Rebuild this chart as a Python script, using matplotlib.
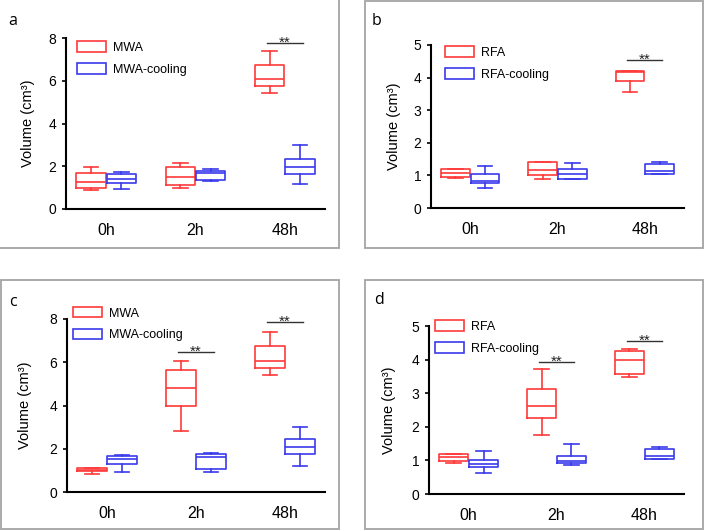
import matplotlib
matplotlib.use("Agg")
import matplotlib.pyplot as plt
from matplotlib.patches import Rectangle, Patch

plt.rcParams['font.family'] = ['Liberation Sans', 'DejaVu Sans']

W, H = 704, 531

groups = ['0h', '2h', '48h']
red = '#ff3a3a'
blue = '#3a3aec'

# box stats per group: (whislo, q1, med, q3, whishi)
mwa_a = [(0.90, 0.98, 1.28, 1.68, 1.97), (0.98, 1.11, 1.51, 1.97, 2.15), (5.43, 5.76, 6.07, 6.74, 7.39)]
mwa_cool_a = [(0.94, 1.22, 1.42, 1.65, 1.72), (1.29, 1.37, 1.68, 1.76, 1.86), (1.19, 1.64, 1.97, 2.32, 3.00)]
rfa_b = [(0.92, 0.95, 1.08, 1.19, 1.20), (0.88, 1.00, 1.18, 1.42, 1.42), (3.57, 3.90, 4.16, 4.19, 4.21)]
rfa_cool_b = [(0.61, 0.78, 0.84, 1.03, 1.28), (0.89, 0.89, 1.04, 1.19, 1.37), (1.05, 1.05, 1.12, 1.35, 1.40)]
mwa_c = [(0.82, 0.98, 1.04, 1.13, 1.13), (2.80, 3.98, 4.80, 5.65, 6.07), (5.42, 5.74, 6.05, 6.75, 7.38)]
mwa_cool_c = [(0.94, 1.28, 1.52, 1.66, 1.73), (0.94, 1.08, 1.64, 1.76, 1.81), (1.21, 1.76, 2.06, 2.43, 2.99)]
rfa_d = [(0.93, 0.97, 1.10, 1.19, 1.19), (1.76, 2.25, 2.63, 3.13, 3.73), (3.47, 3.56, 3.99, 4.27, 4.33)]
rfa_cool_d = [(0.63, 0.80, 0.88, 1.01, 1.28), (0.87, 0.91, 0.98, 1.14, 1.50), (1.03, 1.05, 1.13, 1.35, 1.40)]

# significance marks: group index and bar height
sig_a = ([2], [7.75])
sig_b = ([2], [4.53])
sig_c = ([1, 2], [6.47, 7.85])
sig_d = ([1, 2], [3.92, 4.55])

panels = [
    # letter, rect px (left, right, top, bottom), series, labels, ymax, sig, legend anchor, letter pos, ylabel x
    ('a', (66, 325, 38, 209), mwa_a, mwa_cool_a, ('MWA', 'MWA-cooling'), 8, sig_a, (0.042, 0.98), (8, 21), -0.147),
    ('b', (431, 684, 45, 208), rfa_b, rfa_cool_b, ('RFA', 'RFA-cooling'), 5, sig_b, (0.055, 0.991), (372, 21), -0.146),
    ('c', (67, 325, 319, 492), mwa_c, mwa_cool_c, ('MWA', 'MWA-cooling'), 8, sig_c, (0.023, 1.069), (9, 302), -0.163),
    ('d', (429, 684, 326, 494), rfa_d, rfa_cool_d, ('RFA', 'RFA-cooling'), 5, sig_d, (0.024, 1.033), (374, 300), -0.157),
]

frames = [(-3, -3, 339, 248), (365, 0.8, 703, 248), (1, 280, 339, 529), (365, 280, 703, 529)]

fig = plt.figure(figsize=(W / 100, H / 100), dpi=100)

for x0, y0, x1, y1 in frames:
    fig.add_artist(Rectangle((x0 / W, 1 - y1 / H), (x1 - x0) / W, (y1 - y0) / H,
                             transform=fig.transFigure, fill=False,
                             edgecolor='#a4a4a4', linewidth=1.3))


def stats(rows):
    return [dict(whislo=r[0], q1=r[1], med=r[2], q3=r[3], whishi=r[4], fliers=[]) for r in rows]


for letter, (l, r, t, b), s1, s2, labels, ymax, sig, anchor, lpos, ylx in panels:
    ax = fig.add_axes([l / W, 1 - b / H, (r - l) / W, (b - t) / H])
    pos = [i + 1 for i in range(len(groups))]
    for data, col, off in [(s1, red, -0.17), (s2, blue, 0.17)]:
        ls = dict(color=col, linewidth=1.2)
        ax.bxp(stats(data), positions=[p + off for p in pos], widths=0.33,
               showfliers=False, boxprops=ls, whiskerprops=ls, capprops=ls,
               medianprops=ls, manage_ticks=False)
    for gi, yv in zip(*sig):
        ax.plot([pos[gi] - 0.2, pos[gi] + 0.2], [yv, yv], color='#333333', linewidth=1.0)
        ax.annotate('**', xy=(pos[gi], yv), xytext=(0, 0.5), textcoords='offset points',
                    ha='center', va='center', fontsize=11, color='#222222')
    ax.set_xlim(0.55, 3.45)
    ax.set_ylim(0, ymax)
    ax.set_yticks(range(0, ymax + 1, 2 if ymax == 8 else 1))
    ax.set_xticks(pos)
    ax.set_xticklabels(groups)
    ax.tick_params(axis='x', length=0, pad=10, labelsize=11.5)
    ax.tick_params(axis='y', length=3, width=1.2, pad=4, labelsize=10)
    for sp in ['top', 'right']:
        ax.spines[sp].set_visible(False)
    for sp in ['left', 'bottom']:
        ax.spines[sp].set_linewidth(1.5)
    ax.set_ylabel('Volume (cm³)', fontsize=10.5, va='center')
    ax.yaxis.set_label_coords(ylx, 0.5)
    handles = [Patch(facecolor='white', edgecolor=red, linewidth=1.2),
               Patch(facecolor='white', edgecolor=blue, linewidth=1.2)]
    leg = ax.legend(handles, labels, loc='upper left', bbox_to_anchor=anchor,
                    frameon=False, fontsize=9, handlelength=2.3, handleheight=0.9,
                    handletextpad=0.6, labelspacing=0.75, borderpad=0, borderaxespad=0)
    fig.text(lpos[0] / W, 1 - lpos[1] / H, letter, fontsize=11.5, family='Open Sans',
             ha='left', va='center')

fig.savefig('out.png', dpi=100, facecolor='white')
